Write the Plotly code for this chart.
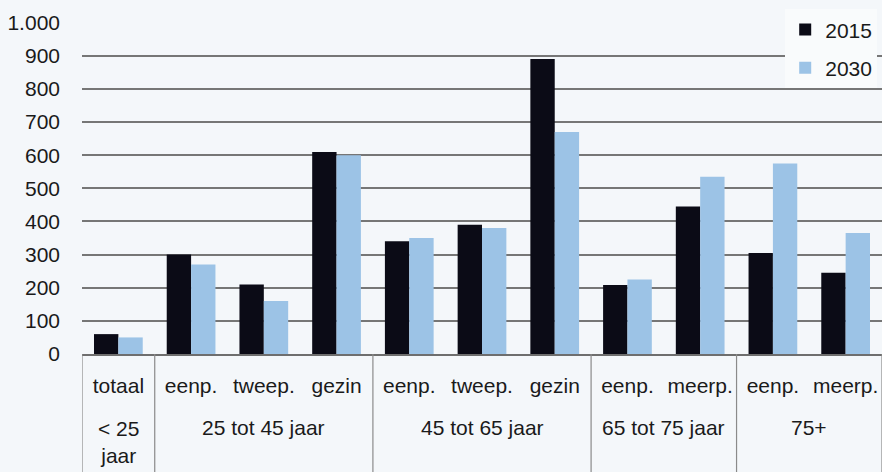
import numpy as np
import plotly.graph_objects as go

# Households per age group and household type (x 1.000)
sub_labels = ["totaal", "eenp.", "tweep.", "gezin", "eenp.", "tweep.", "gezin",
              "eenp.", "meerp.", "eenp.", "meerp."]
group_labels = ["< 25<br>jaar", "25 tot 45 jaar", "45 tot 65 jaar", "65 tot 75 jaar", "75+"]
group_sizes = [1, 3, 3, 2, 2]
values_2015 = [60, 300, 210, 610, 340, 390, 890, 208, 445, 305, 245]
values_2030 = [50, 270, 160, 600, 350, 380, 670, 225, 535, 575, 365]
y_ticks = [0, 100, 200, 300, 400, 500, 600, 700, 800, 900, 1000]

FONT = "Liberation Sans Narrow, Arial Narrow, Liberation Sans, Arial, sans-serif"
FS = 21
TEXT = "#1a1a1a"
BG = "#f4f7fa"
LINE = "#767676"

x = np.arange(len(sub_labels))

fig = go.Figure()
fig.add_trace(go.Bar(x=x, y=values_2015, name="2015", marker=dict(color="#0b0b16", line=dict(width=0)),
                     legendgroup="a"))
fig.add_trace(go.Bar(x=x, y=values_2030, name="2030", marker=dict(color="#9cc3e6", line=dict(width=0)),
                     legendgroup="b"))

# group boundaries and centres on the category scale
edges = np.concatenate([[0], np.cumsum(group_sizes)]) - 0.5
centres = (edges[:-1] + edges[1:]) / 2

shapes = []
for e in edges:
    shapes.append(dict(type="line", xref="x", yref="paper", x0=e, x1=e, y0=0, y1=-0.4,
                       line=dict(color="#8a8a8a", width=1.2)))

annotations = []
for c, g in zip(centres, group_labels):
    two_lines = "<br>" in g
    annotations.append(dict(x=c, xref="x", yref="paper", y=-0.265 if two_lines else -0.222,
                            yanchor="middle", text=g, showarrow=False,
                            font=dict(family=FONT, size=FS, color=TEXT)))

fig.update_layout(
    width=882, height=472,
    margin=dict(l=82, r=0, t=22, b=118),
    paper_bgcolor=BG, plot_bgcolor=BG,
    separators=",.",
    barmode="group", bargap=0.33, bargroupgap=0,
    font=dict(family=FONT, size=FS, color=TEXT),
    showlegend=True,
    legend=dict(x=0.879, xanchor="left", y=1.038, yanchor="top",
                bgcolor="#f9fbfc", borderwidth=0,
                traceorder="grouped", tracegroupgap=8,
                font=dict(family=FONT, size=FS, color=TEXT)),
    xaxis=dict(range=[-0.5, len(sub_labels) - 0.5], tickmode="array", tickvals=x, ticktext=sub_labels,
               showgrid=False, zeroline=False, showline=True, linecolor="#6e6e6e", linewidth=1.5,
               ticks="", ticklabelstandoff=12, tickfont=dict(family=FONT, size=FS, color=TEXT)),
    yaxis=dict(range=[0, 1002], tickmode="array", tickvals=y_ticks, tickformat=",d",
               showgrid=True, gridcolor=LINE, gridwidth=1.5, zeroline=False, showline=False,
               ticks="", ticklabelstandoff=21, tickfont=dict(family=FONT, size=FS, color=TEXT)),
    shapes=shapes, annotations=annotations,
)

fig.write_html("out.html")
